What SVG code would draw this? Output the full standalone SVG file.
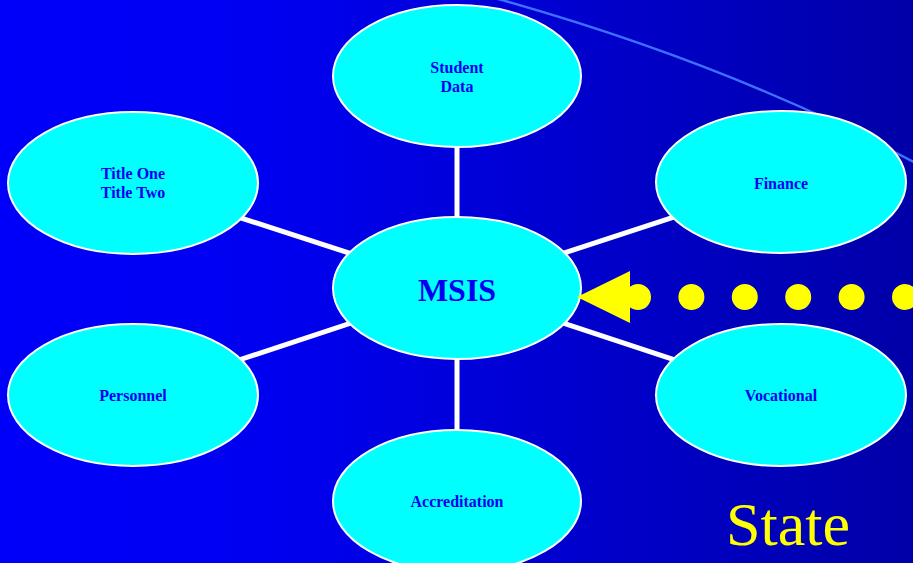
<svg xmlns="http://www.w3.org/2000/svg" width="913" height="563" viewBox="0 0 913 563">
<defs>
<linearGradient id="bg" x1="0" y1="0" x2="1" y2="0">
<stop offset="0" stop-color="#0000FA"/>
<stop offset="0.3" stop-color="#0000F0"/>
<stop offset="1" stop-color="#0000A8"/>
</linearGradient>
</defs>
<style>
.node ellipse{fill:#00FFFF;stroke:#FFFFFF;stroke-width:2}
.lbl{font-family:"Liberation Serif","Times New Roman",serif;font-weight:bold;font-size:16px;fill:#0000F0;text-anchor:middle}
.edge{stroke:#FFFFFF;stroke-width:5;fill:none}
</style>
<rect width="913" height="563" fill="url(#bg)"/>
<path d="M480,-6 Q729,62 925,168" fill="none" stroke="#3F6FFF" stroke-width="2.5"/>
<g id="connectors">
<line class="edge" x1="457" y1="76" x2="457" y2="288"/>
<line class="edge" x1="457" y1="288" x2="457" y2="501"/>
<line class="edge" x1="133" y1="183" x2="457" y2="288"/>
<line class="edge" x1="781" y1="182" x2="457" y2="288"/>
<line class="edge" x1="133" y1="395" x2="457" y2="288"/>
<line class="edge" x1="781" y1="395" x2="457" y2="288"/>
</g>
<g id="student-data" class="node">
<ellipse cx="457" cy="76" rx="124" ry="71"/>
<text class="lbl" x="457" y="73">Student</text>
<text class="lbl" x="457" y="92">Data</text>
</g>
<g id="title-one-two" class="node">
<ellipse cx="133" cy="183" rx="125" ry="71"/>
<text class="lbl" x="133" y="179">Title One</text>
<text class="lbl" x="133" y="198">Title Two</text>
</g>
<g id="finance" class="node">
<ellipse cx="781" cy="182" rx="125" ry="71"/>
<text class="lbl" x="781" y="189">Finance</text>
</g>
<g id="personnel" class="node">
<ellipse cx="133" cy="395" rx="125" ry="71"/>
<text class="lbl" x="133" y="401">Personnel</text>
</g>
<g id="vocational" class="node">
<ellipse cx="781" cy="395" rx="125" ry="71"/>
<text class="lbl" x="781" y="401">Vocational</text>
</g>
<g id="accreditation" class="node">
<ellipse cx="457" cy="501" rx="124" ry="71"/>
<text class="lbl" x="457" y="507">Accreditation</text>
</g>
<g id="msis" class="node">
<ellipse cx="457" cy="288" rx="124" ry="71"/>
<text class="lbl" x="457" y="301" style="font-size:32px">MSIS</text>
</g>
<g id="state-arrow">
<line x1="638" y1="297" x2="960" y2="297" stroke="#FFFF00" stroke-width="26" stroke-linecap="round" stroke-dasharray="0 53.4"/>
<polygon points="577,297 630,271 630,323" fill="#FFFF00"/>
</g>
<text x="788" y="545" text-anchor="middle" style="font-family:'Liberation Serif','Times New Roman',serif;font-size:62px;fill:#FFFF00">State</text>
</svg>
